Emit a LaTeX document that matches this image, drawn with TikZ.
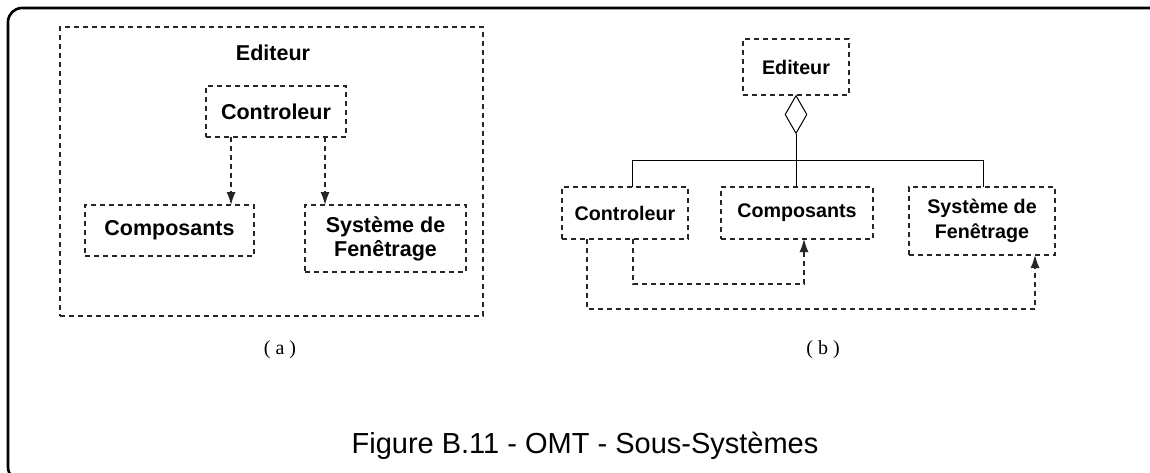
\documentclass[tikz,border=0pt]{standalone}
\usepackage{fontspec}
\setmainfont{Liberation Sans}
\newfontfamily\serifr{Liberation Serif}
\usetikzlibrary{arrows.meta,shapes.geometric,calc}
\begin{document}
\begin{tikzpicture}[x=1pt,y=-1pt,
  dline/.style={draw=black!85,line width=1.3pt,dash pattern=on 5pt off 4pt},
  dbox/.style={dline,rectangle,inner sep=0pt,outer sep=0pt,align=center,
     font=\fontsize{21.5}{24}\selectfont\bfseries},
  dboxb/.style={dbox,font=\fontsize{19.7}{25}\selectfont\bfseries},
  sline/.style={draw=black,line width=1pt},
  arr/.style={dline,-{Latex[length=13pt,width=9pt]}},
  lab/.style={font=\serifr\fontsize{20}{22}\selectfont,inner sep=0pt}]
\useasboundingbox (0,0) rectangle (1150,473);
\begin{scope}
\clip (0,0) rectangle (1150,473);
\draw[line width=2.6pt,rounded corners=14pt] (8,8) rectangle (1180,481);
\end{scope}
% ---------- (a)
\node[dbox,minimum width=423pt,minimum height=289pt] (frameA) at (271.5,171.5) {};
\node[font=\fontsize{21.5}{24}\selectfont\bfseries,inner sep=0pt] (edA) at (273,53) {Editeur};
\node[dbox,minimum width=140pt,minimum height=51pt] (ctlA) at (276,111.5) {Controleur};
\node[dbox,minimum width=169pt,minimum height=51pt] (cmpA) at (169.5,230.5) {Composants};
\node[dbox,minimum width=161pt,minimum height=67pt] (sysA) at (385.5,238.5) {Système de\\Fenêtrage};
\coordinate (a1) at ($(ctlA.south west)!0.179!(ctlA.south east)$);
\coordinate (a2) at ($(ctlA.south west)!0.85!(ctlA.south east)$);
\draw[arr] (a1) -- (a1 |- cmpA.north);
\draw[arr] (a2) -- (a2 |- sysA.north);
\node[lab] (la) at (280,350) {( a )};
% ---------- (b)
\node[dboxb,minimum width=106pt,minimum height=56pt] (edB) at (796,67) {Editeur};
\node[diamond,draw,line width=1pt,inner sep=0pt,minimum width=22pt,minimum height=38pt,anchor=north] (dia) at (edB.south) {};
\node[dboxb,minimum width=126pt,minimum height=52pt] (ctlB) at (625,213) {Controleur};
\node[dboxb,minimum width=152pt,minimum height=52pt] (cmpB) at (797,213) {Composants};
\node[dboxb,minimum width=146pt,minimum height=68pt] (sysB) at (982,221) {Système de\\Fenêtrage};
\coordinate (bar) at (0,161);
\draw[sline] (dia.south) -- (dia.south |- cmpB.north);
\coordinate (t1) at ($(ctlB.north west)!0.556!(ctlB.north east)$);
\coordinate (t2) at ($(sysB.north west)!0.507!(sysB.north east)$);
\draw[sline] (t1) -- (t1 |- bar) -- (t2 |- bar) -- (t2);
\coordinate (r1) at (0,284);
\coordinate (r2) at (0,309);
\coordinate (b1) at ($(ctlB.south west)!0.563!(ctlB.south east)$);
\coordinate (c1) at ($(cmpB.south west)!0.546!(cmpB.south east)$);
\coordinate (b2) at ($(ctlB.south west)!0.198!(ctlB.south east)$);
\coordinate (c2) at ($(sysB.south west)!0.863!(sysB.south east)$);
\draw[arr] (b1) -- (b1 |- r1) -- (c1 |- r1) -- (c1);
\draw[arr] (b2) -- (b2 |- r2) -- (c2 |- r2) -- (c2);
\node[lab] (lb) at (823,350) {( b )};
% ---------- caption
\node[font=\fontsize{29}{32}\selectfont,inner sep=0pt,anchor=base] (cap) at (585,453) {Figure B.11 - OMT - Sous-Systèmes};
\end{tikzpicture}
\end{document}
